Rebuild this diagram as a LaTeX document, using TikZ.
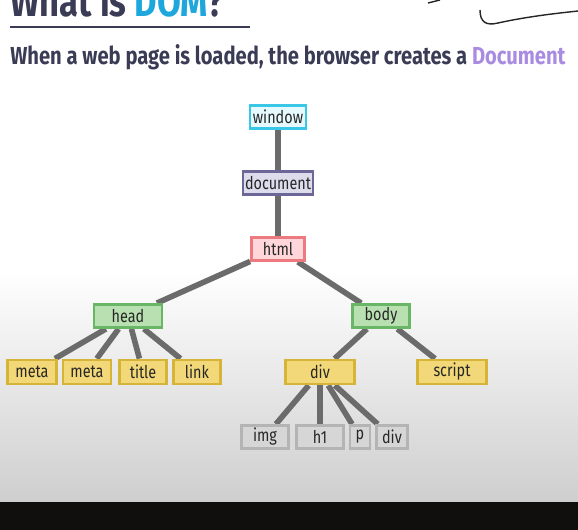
\documentclass[tikz,border=0pt]{standalone}
\usepackage{fontspec}
\setmainfont[FakeStretch=0.82]{Fira Sans}
\usepackage{tikz}
\usepackage{xcolor}
\definecolor{inkdark}{HTML}{3A3C55}
\definecolor{domblue}{HTML}{1EA7DD}
\definecolor{docpurple}{HTML}{A98BE2}
\definecolor{edgegray}{HTML}{6B6B6B}
\definecolor{winfill}{HTML}{E6F9FC}
\definecolor{windraw}{HTML}{3AC6E6}
\definecolor{docfill}{HTML}{DDDCED}
\definecolor{docdraw}{HTML}{6C6796}
\definecolor{htmlfill}{HTML}{FFD6D9}
\definecolor{htmldraw}{HTML}{EC7A80}
\definecolor{greenfill}{HTML}{B9E0B0}
\definecolor{greendraw}{HTML}{68B666}
\definecolor{yellowfill}{HTML}{F2D878}
\definecolor{yellowdraw}{HTML}{D6B438}
\definecolor{grayfill}{HTML}{D6D6D6}
\definecolor{graydraw}{HTML}{B4B4B4}
\definecolor{floorgray}{HTML}{CECECE}
\definecolor{barblack}{HTML}{110E0E}
\pgfdeclarelayer{bg}
\pgfdeclarelayer{edges}
\pgfsetlayers{bg,edges,main}

\begin{document}
\begin{tikzpicture}[x=0.02cm,y=-0.02cm,
  box/.style={draw,line width=1.6pt,minimum height=0.46cm,inner sep=0pt,
    text=black!85,font=\fontsize{10}{12}\selectfont},
  winbox/.style={box,fill=winfill,draw=windraw},
  docbox/.style={box,fill=docfill,draw=docdraw},
  htmlbox/.style={box,fill=htmlfill,draw=htmldraw},
  greenbox/.style={box,fill=greenfill,draw=greendraw},
  yellowbox/.style={box,fill=yellowfill,draw=yellowdraw,minimum height=0.48cm},
  graybox/.style={box,fill=grayfill,draw=graydraw},
  edge/.style={draw=edgegray,line width=3.2pt}]
\useasboundingbox (0,0) rectangle (578,530);
\clip (0,0) rectangle (578,530);
\begin{pgfonlayer}{bg}
\fill[white] (0,0) rectangle (578,270);
\shade[top color=white,bottom color=floorgray] (0,270) rectangle (578,503);
\fill[barblack] (0,502) rectangle (578,530);
\end{pgfonlayer}

\node[anchor=base west,text=inkdark,font=\bfseries\fontsize{24}{26}\selectfont,inner sep=0pt] (heading) at (10,17) {What is \textcolor{domblue}{DOM}?};
\draw[inkdark,line width=1.2pt] (10,27) -- (250,27);
\node[anchor=base west,text=inkdark,font=\bfseries\fontsize{14}{16}\selectfont,inner sep=0pt] (intro) at (10,65) {When a web page is loaded, the browser creates a \textcolor{docpurple}{Document}};
\draw[black!85,line width=0.8pt] (428,3) -- (440,0);
\draw[black!85,line width=0.8pt] (480,10) .. controls (480,22) and (486,26) .. (498,23) .. controls (530,16) and (560,13) .. (578,11);

\node[winbox,minimum width=1.12cm] (window) at (278,117) {window};
\node[docbox,minimum width=1.4cm] (document) at (278,183) {document};
\node[htmlbox,minimum width=1.06cm] (html) at (278,249) {html};
\node[greenbox,minimum width=1.36cm] (head) at (128,316) {head};
\node[greenbox,minimum width=1.14cm] (body) at (381,316) {body};
\node[yellowbox,minimum width=0.98cm] (meta1) at (32,372) {meta};
\node[yellowbox,minimum width=0.96cm] (meta2) at (87,372) {meta};
\node[yellowbox,minimum width=0.94cm] (title) at (143,372) {title};
\node[yellowbox,minimum width=0.94cm] (link) at (197,372) {link};
\node[yellowbox,minimum width=1.38cm] (div) at (320,372) {div};
\node[yellowbox,minimum width=1.38cm] (script) at (452,372) {script};
\node[graybox,minimum width=0.94cm] (img) at (265,437) {img};
\node[graybox,minimum width=0.94cm] (h1) at (320,437) {h1};
\node[graybox,minimum width=0.4cm] (p) at (360,437) {p};
\node[graybox,minimum width=0.62cm] (div2) at (392,437) {div};

\begin{pgfonlayer}{edges}
\foreach \a/\b in {window/document,document/html,html/head,html/body,
  head/meta1,head/meta2,head/title,head/link,body/div,body/script,
  div/img,div/h1,div/p,div/div2}
  \path[edge] (\a) -- (\b);
\end{pgfonlayer}

\end{tikzpicture}
\end{document}
